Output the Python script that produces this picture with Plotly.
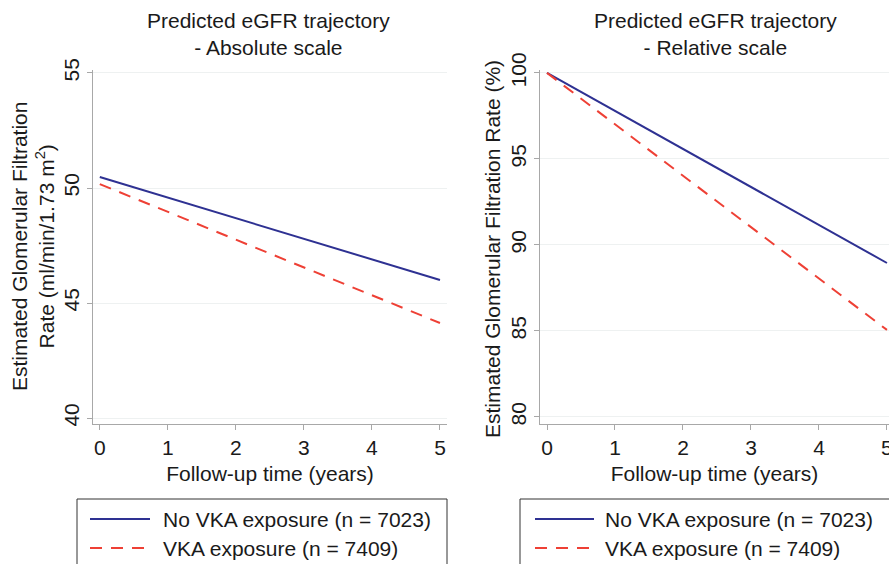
import plotly.graph_objects as go

W, H = 889, 564

# ---- data ----
years = [0, 5]
abs_no_vka = [50.48, 46.0]
abs_vka = [50.17, 44.13]
rel_no_vka = [100.0, 88.95]
rel_vka = [100.0, 85.06]

x_ticks = [0, 1, 2, 3, 4, 5]
abs_y_ticks = [40, 45, 50, 55]
rel_y_ticks = [80, 85, 90, 95, 100]

series_names = ["No VKA exposure (n = 7023)", "VKA exposure (n = 7409)"]
panel_titles = ["Predicted eGFR trajectory<br>- Absolute scale",
                "Predicted eGFR trajectory<br>- Relative scale"]
ytitle_abs = "Estimated Glomerular Filtration<br>Rate (ml/min/1.73 m<sup>2</sup>)"
ytitle_rel = "Estimated Glomerular Filtration Rate (%)"
xtitle = "Follow-up time (years)"

BLUE = "#2e3192"
RED = "#ee4035"
DASH = "12px,9px"
FONT = "Liberation Sans, Arial, sans-serif"
FS = 21


def px(x):
    return x / W


def py(y):
    return 1 - y / H


fig = go.Figure()

fig.add_trace(go.Scatter(x=years, y=abs_no_vka, mode="lines", xaxis="x", yaxis="y",
                         line=dict(color=BLUE, width=2), showlegend=False))
fig.add_trace(go.Scatter(x=years, y=abs_vka, mode="lines", xaxis="x", yaxis="y",
                         line=dict(color=RED, width=2, dash=DASH), showlegend=False))
fig.add_trace(go.Scatter(x=years, y=rel_no_vka, mode="lines", xaxis="x2", yaxis="y2",
                         line=dict(color=BLUE, width=2), showlegend=False))
fig.add_trace(go.Scatter(x=years, y=rel_vka, mode="lines", xaxis="x2", yaxis="y2",
                         line=dict(color=RED, width=2, dash=DASH), showlegend=False))

axis_common = dict(showline=True, linecolor="#a8a8a8", linewidth=1,
                   ticks="outside", ticklen=5, tickcolor="#a8a8a8",
                   tickfont=dict(family=FONT, size=FS, color="#1a1a1a"),
                   zeroline=False, automargin=False, ticklabeloverflow="allow")

ydom = [py(424), py(70)]

fig.update_layout(
    template="none",
    width=W, height=H,
    margin=dict(l=0, r=0, t=0, b=0, autoexpand=False),
    paper_bgcolor="white", plot_bgcolor="white",
    font=dict(family=FONT, size=FS, color="#1a1a1a"),
    xaxis=dict(domain=[px(93), px(447)], range=[-0.1, 5.103], tickvals=x_ticks,
               showgrid=False, anchor="y",
               title=dict(text=xtitle, standoff=8, font=dict(size=FS)), **axis_common),
    yaxis=dict(domain=ydom, range=[39.74, 55.13], tickvals=abs_y_ticks, tickangle=-90,
               showgrid=True, gridcolor="#eef1f1", gridwidth=1, anchor="x", **axis_common),
    xaxis2=dict(domain=[px(540), 1.0], range=[-0.103, 5.03], tickvals=x_ticks,
                showgrid=False, anchor="y2",
                title=dict(text=xtitle, standoff=8, font=dict(size=FS)), **axis_common),
    yaxis2=dict(domain=ydom, range=[79.59, 100.17], tickvals=rel_y_ticks, tickangle=-90,
                showgrid=True, gridcolor="#eef1f1", gridwidth=1, anchor="x2", **axis_common),
)

annotations = [
    dict(text=panel_titles[0], x=px(268), y=py(34), xref="paper", yref="paper",
         showarrow=False, xanchor="center", yanchor="middle", font=dict(size=FS)),
    dict(text=panel_titles[1], x=px(715), y=py(34), xref="paper", yref="paper",
         showarrow=False, xanchor="center", yanchor="middle", font=dict(size=FS)),
    dict(text=ytitle_abs, x=px(33), y=py(247), xref="paper", yref="paper",
         showarrow=False, textangle=-90, xanchor="center", yanchor="middle", font=dict(size=FS)),
    dict(text=ytitle_rel, x=px(493), y=py(249), xref="paper", yref="paper",
         showarrow=False, textangle=-90, xanchor="center", yanchor="middle", font=dict(size=FS)),
]

shapes = []
# legend boxes with line samples and labels
for (bx0, bx1, lx0, lx1, tx) in [(77, 447, 90, 150, 161), (520, 895, 535, 594, 603)]:
    shapes.append(dict(type="rect", xref="paper", yref="paper",
                       x0=px(bx0), x1=px(bx1), y0=py(600), y1=py(499),
                       line=dict(color="#333333", width=1), fillcolor="rgba(0,0,0,0)"))
    shapes.append(dict(type="line", xref="paper", yref="paper",
                       x0=px(lx0), x1=px(lx1), y0=py(519), y1=py(519),
                       line=dict(color=BLUE, width=2)))
    shapes.append(dict(type="line", xref="paper", yref="paper",
                       x0=px(lx0), x1=px(lx1), y0=py(548), y1=py(548),
                       line=dict(color=RED, width=2, dash=DASH)))
    annotations.append(dict(text=series_names[0], x=px(tx), y=py(519), xref="paper", yref="paper",
                            showarrow=False, xanchor="left", yanchor="middle", font=dict(size=FS)))
    annotations.append(dict(text=series_names[1], x=px(tx), y=py(548), xref="paper", yref="paper",
                            showarrow=False, xanchor="left", yanchor="middle", font=dict(size=FS)))

fig.update_layout(annotations=annotations, shapes=shapes)

# remove the page's default body margin so the 889x564 figure fills the window
fig.write_html(
    "out.html",
    config={"displayModeBar": False},
    post_script="document.body.style.margin='0';document.body.style.overflow='hidden';",
)
